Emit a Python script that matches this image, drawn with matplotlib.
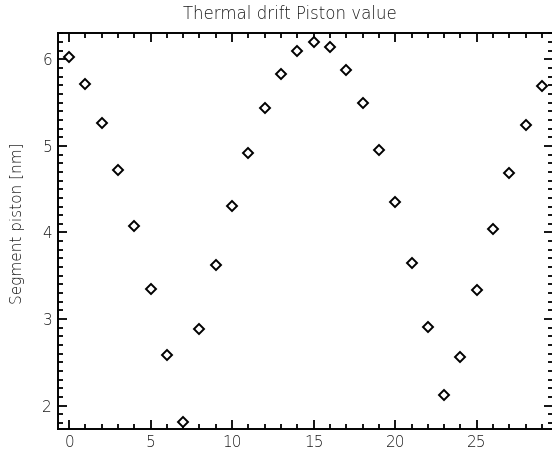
import numpy as np
import matplotlib
matplotlib.use("Agg")
import matplotlib.pyplot as plt
from matplotlib.ticker import MultipleLocator

# segment index and piston value [nm]
segment = np.arange(30)
piston = [6.03, 5.72, 5.27, 4.72, 4.07, 3.35, 2.59, 1.81, 2.89, 3.62,
          4.31, 4.92, 5.44, 5.83, 6.09, 6.20, 6.14, 5.88, 5.49, 4.95,
          4.35, 3.65, 2.91, 2.12, 2.56, 3.34, 4.04, 4.69, 5.24, 5.69]

x_ticks = [0, 5, 10, 15, 20, 25]
y_ticks = [2, 3, 4, 5, 6]

title = "Thermal drift Piston value"
ylabel = "Segment piston [nm]"

text_color = "#1a1a1a"
plt.rcParams["font.weight"] = "light"

fig = plt.figure(figsize=(5.52, 4.61), dpi=100)
ax = fig.add_axes([57.7 / 552, 32 / 461, (552.5 - 57.7) / 552, (429 - 32.7) / 461])

ax.plot(segment, piston, linestyle="none", marker="D", markersize=5.0,
        markerfacecolor="white", markeredgecolor="black", markeredgewidth=1.4)

ax.set_xlim(-0.69, 29.64)
ax.set_ylim(1.731, 6.307)
ax.set_xticks(x_ticks)
ax.set_yticks(y_ticks)
ax.xaxis.set_minor_locator(MultipleLocator(1))
ax.yaxis.set_minor_locator(MultipleLocator(0.1))

ax.tick_params(which="both", direction="in", top=True, right=True,
               width=1.3, colors="black", labelcolor=text_color, labelsize=11)
ax.tick_params(which="major", length=6.5, pad=4)
ax.tick_params(which="minor", length=3.4)
for sp in ax.spines.values():
    sp.set_linewidth(1.4)

fig.text(290 / 552, 1 - 14 / 461, title, ha="center", va="center",
         fontsize=12, color=text_color)
fig.text(18 / 552, 1 - 223 / 461, ylabel, ha="center", va="center",
         rotation=90, fontsize=11, color=text_color)

fig.savefig("out.png", dpi=100)
